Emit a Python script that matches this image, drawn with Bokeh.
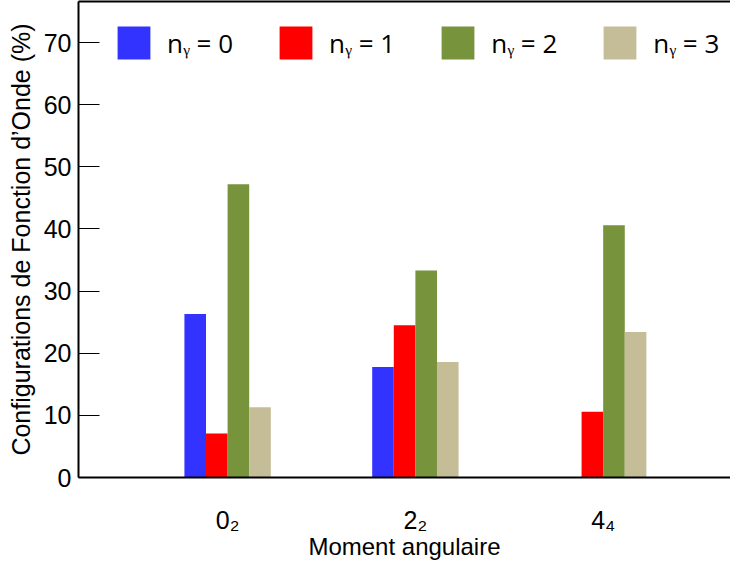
from bokeh.plotting import figure
from bokeh.models import ColumnDataSource, FixedTicker, LinearAxis, Legend, LegendItem, Range1d
from bokeh.transform import dodge
from bokeh.embed import file_html
from bokeh.resources import INLINE

# ---- data ----
categories = ["0\u2082", "2\u2082", "4\u2084"]
n_gamma_0 = [26.3, 17.8, 0.0]
n_gamma_1 = [7.1, 24.5, 10.6]
n_gamma_2 = [47.2, 33.3, 40.6]
n_gamma_3 = [11.3, 18.6, 23.4]
series_labels = ["n\u1d67 = 0", "n\u1d67 = 1", "n\u1d67 = 2", "n\u1d67 = 3"]
y_ticks = [0, 10, 20, 30, 40, 50, 60, 70]

colors = ["#3333FF", "#FF0000", "#77933C", "#C4BD97"]
series = [n_gamma_0, n_gamma_1, n_gamma_2, n_gamma_3]

idx = list(range(len(categories)))
data = {"idx": idx}
for i, s in enumerate(series):
    data[f"s{i}"] = s
source = ColumnDataSource(data)

FH = 476
p = figure(frame_width=652, frame_height=FH, output_backend="svg", toolbar_location=None,
           x_range=Range1d(-0.794, 2.678), y_range=Range1d(0, 76.6),
           min_border_left=78, min_border_right=0, min_border_top=1, min_border_bottom=0)
p.outline_line_color = None
p.xgrid.visible = False
p.ygrid.visible = False

bw = 0.115
items = []
for i, (col, lab) in enumerate(zip(colors, series_labels)):
    off = (i - 1.5) * bw
    r = p.vbar(x=dodge("idx", off), top=f"s{i}", bottom=0, width=bw, source=source,
               fill_color=col, line_color=None)
    items.append(LegendItem(label=lab, renderers=[r]))

legend = Legend(items=items, orientation="horizontal", location=(35, FH - 62),
                glyph_width=41, glyph_height=41, label_standoff=13, spacing=42,
                padding=5, margin=0, border_line_color=None, background_fill_alpha=0,
                label_text_font="Open Sans", label_text_font_size="26px",
                label_text_color="black")
p.add_layout(legend, "center")

# x axis
xa = p.xaxis[0]
xa.ticker = FixedTicker(ticks=idx)
xa.major_label_overrides = {i: c for i, c in zip(idx, categories)}
xa.major_tick_line_color = None
xa.minor_tick_line_color = None
xa.axis_line_width = 2
xa.axis_line_color = "black"
xa.major_label_text_font = "Liberation Sans"
xa.major_label_text_font_size = "25px"
xa.major_label_text_color = "black"
xa.major_label_standoff = 22
xa.axis_label = "Moment angulaire"
xa.axis_label_text_font = "Liberation Sans"
xa.axis_label_text_font_size = "24px"
xa.axis_label_text_font_style = "normal"
xa.axis_label_text_color = "black"
xa.axis_label_standoff = -4

# y axis
ya = p.yaxis[0]
ya.ticker = FixedTicker(ticks=y_ticks)
ya.major_tick_in = 21
ya.major_tick_out = 0
ya.major_tick_line_width = 1
ya.minor_tick_line_color = None
ya.axis_line_width = 2
ya.axis_line_color = "black"
ya.major_label_text_font = "Liberation Sans"
ya.major_label_text_font_size = "25px"
ya.major_label_text_color = "black"
ya.major_label_standoff = 7
ya.axis_label = "Configurations de Fonction d\u2019Onde (%)"
ya.axis_label_text_font = "Liberation Sans"
ya.axis_label_text_font_size = "25px"
ya.axis_label_text_font_style = "normal"
ya.axis_label_text_color = "black"
ya.axis_label_standoff = 6

# top border line
top = LinearAxis(major_tick_line_color=None, minor_tick_line_color=None,
                 major_label_text_font_size="0px", axis_line_width=2, axis_line_color="black")
top.ticker = FixedTicker(ticks=[])
p.add_layout(top, "above")

open("out.html", "w").write(file_html(p, INLINE))
